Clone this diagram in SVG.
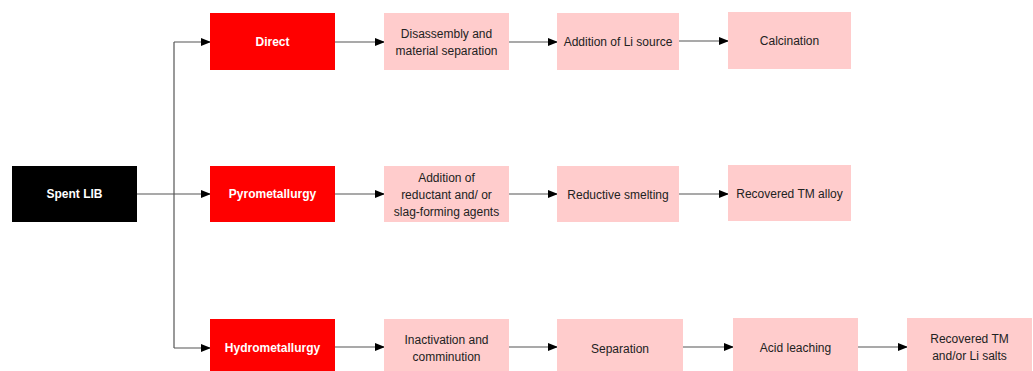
<svg xmlns="http://www.w3.org/2000/svg" width="1033" height="371" viewBox="0 0 1033 371">
<defs>
<marker id="ah" markerWidth="10" markerHeight="8" refX="9" refY="4" orient="auto" markerUnits="userSpaceOnUse">
<path d="M0,0 L10,4 L0,8 Z" fill="#000"/>
</marker>
<style>
.src{fill:#000}
.red{fill:#ff0000}
.pink{fill:#ffcccc}
.tw{font-family:"Liberation Sans",Arial,sans-serif;font-size:12px;font-weight:bold;fill:#fff;text-anchor:middle}
.tb{font-family:"Liberation Sans",Arial,sans-serif;font-size:12px;fill:#222;text-anchor:middle}
.c{stroke:#555;stroke-width:1.2;fill:none}
.a{stroke:#555;stroke-width:1.2;fill:none;marker-end:url(#ah)}
</style>
</defs>
<rect width="1033" height="371" fill="#fff"/>
<g id="connectors">
<path class="c" d="M137,194 H174"/>
<path class="c" d="M174,42 V348"/>
<path class="a" d="M174,42 H210"/>
<path class="a" d="M174,194 H210"/>
<path class="a" d="M174,348 H210"/>
<path class="a" d="M335,42 H384"/>
<path class="a" d="M509,42 H557"/>
<path class="a" d="M679,41 H728"/>
<path class="a" d="M335,194 H384"/>
<path class="a" d="M509,194 H557"/>
<path class="a" d="M679,194 H728"/>
<path class="a" d="M335,347 H384"/>
<path class="a" d="M509,347 H557"/>
<path class="a" d="M683,347 H733"/>
<path class="a" d="M858,347 H907"/>
</g>
<g id="spent"><rect class="src" x="12" y="166" width="125" height="56"/><text class="tw" x="74.5" y="198">Spent LIB</text></g>
<g id="direct"><rect class="red" x="210" y="13" width="125" height="57"/><text class="tw" x="272.5" y="46">Direct</text></g>
<g id="pyro"><rect class="red" x="210" y="166" width="125" height="56"/><text class="tw" x="272.5" y="198">Pyrometallurgy</text></g>
<g id="hydro"><rect class="red" x="210" y="319" width="125" height="57"/><text class="tw" x="272.5" y="352">Hydrometallurgy</text></g>
<g id="disassembly"><rect class="pink" x="384" y="13" width="125" height="57"/><text class="tb" x="446.5" y="38">Disassembly and</text><text class="tb" x="446.5" y="55">material separation</text></g>
<g id="addli"><rect class="pink" x="557" y="13" width="122" height="57"/><text class="tb" x="618" y="46">Addition of Li source</text></g>
<g id="calcination"><rect class="pink" x="728" y="12" width="123" height="57"/><text class="tb" x="789.5" y="45">Calcination</text></g>
<g id="reductant"><rect class="pink" x="384" y="166" width="125" height="56"/><text class="tb" x="446.5" y="182">Addition of</text><text class="tb" x="446.5" y="199">reductant and/ or</text><text class="tb" x="446.5" y="216">slag-forming agents</text></g>
<g id="smelting"><rect class="pink" x="557" y="166" width="122" height="56"/><text class="tb" x="618" y="199">Reductive smelting</text></g>
<g id="alloy"><rect class="pink" x="728" y="165" width="123" height="56"/><text class="tb" x="789.5" y="198">Recovered TM alloy</text></g>
<g id="inactivation"><rect class="pink" x="384" y="319" width="125" height="57"/><text class="tb" x="446.5" y="344">Inactivation  and</text><text class="tb" x="446.5" y="361">comminution</text></g>
<g id="separation"><rect class="pink" x="557" y="319" width="126" height="57"/><text class="tb" x="620" y="353">Separation</text></g>
<g id="leaching"><rect class="pink" x="733" y="318" width="125" height="58"/><text class="tb" x="795.5" y="352">Acid leaching</text></g>
<g id="salts"><rect class="pink" x="907" y="318" width="125" height="58"/><text class="tb" x="969.5" y="343">Recovered TM</text><text class="tb" x="969.5" y="360">and/or Li salts</text></g>
</svg>
